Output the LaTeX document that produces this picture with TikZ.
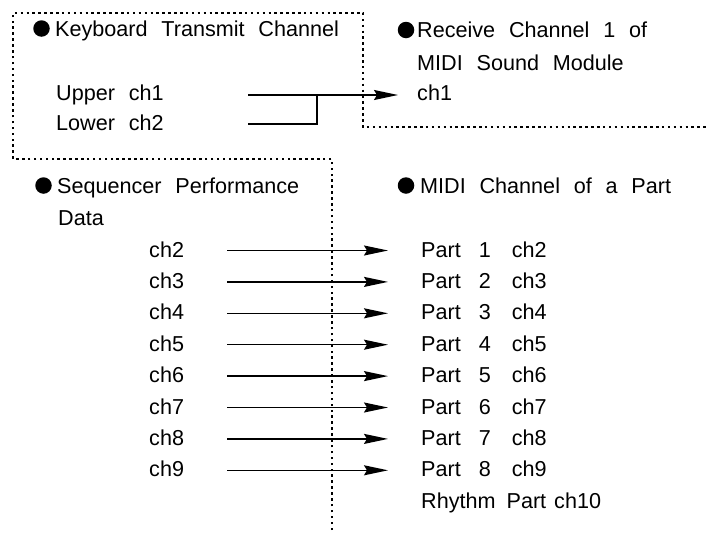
\documentclass[tikz,border=0pt]{standalone}
\usepackage{fontspec}
\setmainfont[WordSpace=2.3]{Liberation Sans}
\usetikzlibrary{arrows.meta}
\begin{document}
\begin{tikzpicture}[x=1pt,y=-1pt,
  txt/.style={anchor=base west,inner sep=0pt,font=\fontsize{21.6}{25}\selectfont},
  bul/.style={circle,fill=black,inner sep=0pt,minimum size=16.5pt},
  dotline/.style={line width=1.7pt,dash pattern=on 2.5pt off 3.4pt},
  conn/.style={line width=1.5pt},
  arr/.style={conn,-{Stealth[length=24pt,width=10pt,inset=3pt]}}]
\useasboundingbox (0,0) rectangle (708,533);
% dotted boundary
\draw[dotline] (332,530) -- (332,159) -- (13,159) -- (13,13) -- (363,13) -- (363,127) -- (706,127);
% bullets and headings
\node[bul] (b1) at (41.5,28.5) {};
\node[txt] (kt) at (55,36) {Keyboard Transmit Channel};
\node[bul] (b2) at (406,30) {};
\node[txt] (rc) at (417,37) {Receive Channel 1 of};
\node[txt] (msm) at (417,70) {MIDI Sound Module};
\node[txt] (rch) at (417,100) {ch1};
\node[bul] (b3) at (43.5,185.5) {};
\node[txt] (sp) at (57,193) {Sequencer Performance};
\node[txt] (dt) at (58,225) {Data};
\node[bul] (b4) at (406,185.5) {};
\node[txt] (mc) at (420,193) {MIDI Channel of a Part};
% keyboard channels
\node[txt] (up) at (56,100) {Upper ch1};
\node[txt] (lo) at (56,130) {Lower ch2};
\coordinate (u0) at (248,95);
\coordinate (u1) at (398,95);
\coordinate (l0) at (248,124);
\coordinate (lj) at (317,95);
\draw[arr] (u0) -- (u1);
\draw[conn] (l0) -| (lj);
% sequencer channels
\foreach \i/\c/\p in {0/2/1,1/3/2,2/4/3,3/5/4,4/6/5,5/7/6,6/8/7,7/9/8}{
  \pgfmathsetmacro{\yb}{257+31.4*\i}
  \node[txt] (s\c) at (149,\yb) {ch\c};
  \node[txt] (p\p) at (421,\yb) {Part\hspace{18pt}\p\hspace{21pt}ch\c};
  \coordinate (a\c) at (227,\yb-6.5);
  \coordinate (t\c) at (388,\yb-6.5);
  \draw[arr] (a\c) -- (t\c);
}
\node[txt] (rp) at (421,508) {Rhythm\hspace{11pt}Part\hspace{8pt}ch10};
\end{tikzpicture}
\end{document}
